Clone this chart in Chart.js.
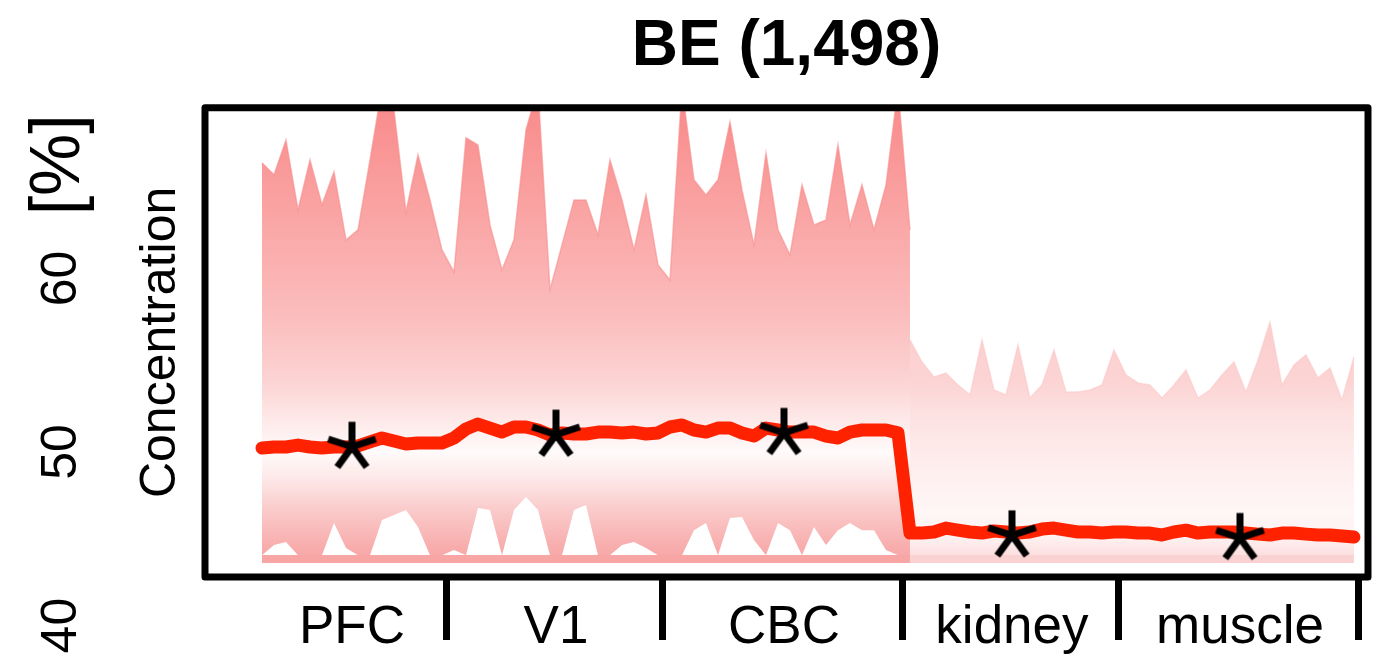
<!DOCTYPE html>
<html>
<head>
<meta charset="utf-8">
<title>BE (1,498)</title>
<script src="https://cdn.jsdelivr.net/npm/chart.js@4.4.1/dist/chart.umd.min.js"></script>
<style>
  html, body { margin: 0; padding: 0; background: #fff; }
  #wrap { width: 1394px; height: 656px; position: relative; }
</style>
</head>
<body>
<div id="wrap"><canvas id="chart"></canvas></div>
<script>
/* ---- data ---- */
const tissues = ['PFC', 'V1', 'CBC', 'kidney', 'muscle'];
const groupSizes = [16, 18, 20, 18, 20];
const yTicks = [40, 50, 60];

// mean concentration per sample (red line)
const meanLine = [
  50.23, 50.29, 50.29, 50.40, 50.29, 50.23, 50.29, 50.29, 50.35, 50.58,
  50.81, 50.63, 50.46, 50.52, 50.52, 50.52, 50.81, 51.33, 51.61, 51.38,
  51.15, 51.44, 51.44, 51.27, 50.98, 51.10, 51.04, 51.04, 51.15, 51.15,
  51.10, 51.15, 51.04, 51.10, 51.44, 51.56, 51.27, 51.15, 51.38, 51.38,
  51.10, 50.92, 51.38, 51.27, 51.15, 51.15, 51.15, 50.92, 50.81, 51.15,
  51.27, 51.27, 51.27, 51.10, 45.33, 45.33, 45.39, 45.62, 45.50, 45.39,
  45.33, 45.45, 45.39, 45.33, 45.39, 45.56, 45.62, 45.50, 45.39, 45.39,
  45.33, 45.39, 45.39, 45.33, 45.33, 45.22, 45.39, 45.50, 45.33, 45.39,
  45.39, 45.39, 45.33, 45.27, 45.22, 45.33, 45.33, 45.27, 45.22, 45.22,
  45.16, 45.10
];

// tissue means (asterisks)
const starValues = [50.3, 51.0, 51.1, 45.2, 45.05];

// spread of individual sites, brain regions (samples 0..54)
const brainUpper = [
  66.66, 65.97, 67.98, 63.95, 66.83, 64.24, 66.14, 62.22, 62.80, 66.83,
  71.00, 69.71, 63.83, 67.12, 64.52, 61.64, 60.37, 68.10, 67.69, 63.08,
  60.49, 62.22, 68.56, 71.00, 59.34, 61.93, 64.52, 64.52, 62.51, 66.83,
  64.52, 61.64, 64.81, 60.78, 59.91, 71.00, 65.68, 64.81, 65.68, 69.02,
  65.10, 61.93, 67.23, 62.80, 61.35, 65.39, 63.08, 63.37, 67.69, 63.08,
  65.39, 62.80, 65.39, 71.00, 62.80
];
const brainLower = [
  44.06, 44.64, 44.81, 44.06, 44.06, 44.06, 45.91, 44.47, 44.06, 44.06,
  46.08, 46.37, 46.66, 45.68, 44.06, 44.06, 44.35, 44.06, 46.77, 46.66,
  44.06, 46.66, 47.41, 46.66, 44.06, 44.06, 46.66, 46.95, 44.06, 44.06,
  44.64, 44.81, 44.47, 44.06, 44.06, 44.06, 45.50, 45.91, 44.06, 46.20,
  46.25, 44.93, 44.06, 45.91, 45.50, 44.06, 45.68, 44.64, 45.50, 45.91,
  45.50, 45.50, 44.35, 44.06, 44.06
];
// spread of individual sites, kidney + muscle (samples 54..91)
const tissueUpper = [
  56.46, 55.19, 54.32, 54.55, 53.86, 53.29, 56.46, 53.57, 53.29, 56.17,
  53.11, 53.86, 55.88, 53.46, 53.46, 53.57, 53.86, 55.88, 54.44, 53.98,
  53.86, 53.11, 53.86, 54.73, 53.11, 53.57, 54.44, 55.19, 53.46, 55.30,
  57.49, 53.86, 55.01, 55.59, 54.27, 54.84, 53.00, 55.48
];
const spreadFloor = 44.06;
const baseLevel = 43.83;

/* ---- derived positions (sample index space) ---- */
const FONT = "'Liberation Sans', Arial, Helvetica, sans-serif";
const starts = [];
groupSizes.reduce((acc, n) => { starts.push(acc); return acc + n; }, 0);
const centers = starts.map((s, k) => s + (groupSizes[k] - 1) / 2);
const boundaries = starts.map((s, k) => s + groupSizes[k] - 0.6);
const nSamples = meanLine.length;
const brainEnd = brainUpper.length - 1;

const pts = (arr, offset) => arr.map((v, i) => ({ x: i + (offset || 0), y: v }));

function valueGradient(chart, stops) {
  const { ctx, chartArea, scales } = chart;
  if (!chartArea) return null;
  const top = chartArea.top, bottom = chartArea.bottom;
  const g = ctx.createLinearGradient(0, top, 0, bottom);
  stops.forEach(([v, c]) => {
    const f = (scales.y.getPixelForValue(v) - top) / (bottom - top);
    g.addColorStop(Math.min(1, Math.max(0, f)), c);
  });
  return g;
}

const brainStops = [
  [69.8, 'rgb(249,140,140)'], [64, 'rgb(250,163,163)'], [58, 'rgb(251,188,188)'],
  [54, 'rgb(252,212,212)'], [51.5, 'rgb(254,236,236)'], [50, 'rgb(255,250,250)'],
  [48.5, 'rgb(253,232,232)'], [46.5, 'rgb(250,200,200)'], [44.5, 'rgb(248,172,172)'],
  [42.8, 'rgb(247,162,162)']
];
const tissueStops = [
  [57.5, 'rgb(252,205,205)'], [54, 'rgb(252,212,212)'], [52, 'rgb(253,226,226)'],
  [49, 'rgb(254,238,238)'], [46.5, 'rgb(255,246,246)'], [45, 'rgb(254,240,240)'],
  [44, 'rgb(252,222,222)']
];

function makeAsterisk(arm, width) {
  const size = Math.ceil(2 * arm + width + 2);
  const c = document.createElement('canvas');
  c.width = size; c.height = size;
  const g = c.getContext('2d');
  g.translate(size / 2, size / 2);
  g.strokeStyle = '#000';
  g.lineWidth = width;
  for (let k = 0; k < 5; k++) {
    const t = k * 2 * Math.PI / 5;
    g.beginPath();
    g.moveTo(0, 0);
    g.lineTo(arm * Math.sin(t), -arm * Math.cos(t));
    g.stroke();
  }
  return c;
}

// no extra room for tick labels that sit outside the box
function noPadding(s) {
  s.paddingTop = 0; s.paddingBottom = 0; s.paddingLeft = 0; s.paddingRight = 0;
}

// box around the plot and the unit label
const framePlugin = {
  id: 'frame',
  afterDatasetsDraw(chart) {
    const { ctx, chartArea: a } = chart;
    ctx.save();
    ctx.strokeStyle = '#000';
    ctx.lineWidth = 7;
    ctx.lineJoin = 'round';
    ctx.strokeRect(a.left, a.top, a.right - a.left, a.bottom - a.top);
    ctx.restore();
  },
  afterDraw(chart) {
    const { ctx, chartArea: a } = chart;
    ctx.save();
    ctx.translate(60, a.top + 57);
    ctx.rotate(-Math.PI / 2);
    ctx.font = '70px ' + FONT;
    ctx.fillStyle = '#000';
    ctx.textAlign = 'center';
    ctx.textBaseline = 'middle';
    ctx.fillText('[%]', 0, 0);
    ctx.restore();
  }
};

new Chart(document.getElementById('chart'), {
  type: 'line',
  data: {
    datasets: [
      {
        data: starValues.map((v, k) => ({ x: centers[k], y: v })),
        showLine: false,
        pointStyle: makeAsterisk(25, 7),
        pointRadius: 20
      },
      {
        data: pts(meanLine),
        borderColor: '#ff2200',
        borderWidth: 13,
        borderCapStyle: 'round',
        borderJoinStyle: 'round',
        pointRadius: 0,
        fill: false
      },
      {
        data: [{ x: 0, y: baseLevel }, { x: brainEnd, y: baseLevel }, { x: nSamples - 1, y: baseLevel }],
        borderWidth: 8,
        segment: {
          borderColor: c => c.p0DataIndex === 0 ? 'rgb(247,165,165)' : 'rgb(251,210,210)'
        },
        pointRadius: 0,
        fill: false
      },
      {
        data: pts(brainUpper),
        borderColor: 'rgba(248,140,140,0.6)',
        borderWidth: 1.5,
        pointRadius: 0,
        backgroundColor: c => valueGradient(c.chart, brainStops),
        fill: '+1'
      },
      {
        data: pts(brainLower),
        borderWidth: 0,
        pointRadius: 0,
        fill: false
      },
      {
        data: pts(tissueUpper, brainEnd),
        borderColor: 'rgba(251,200,200,0.6)',
        borderWidth: 1.5,
        pointRadius: 0,
        backgroundColor: c => valueGradient(c.chart, tissueStops),
        fill: { value: spreadFloor }
      }
    ]
  },
  options: {
    responsive: true,
    maintainAspectRatio: false,
    animation: false,
    elements: { line: { tension: 0 } },
    layout: { padding: { left: 0, right: 26, top: 0, bottom: 0 } },
    plugins: {
      legend: { display: false },
      tooltip: { enabled: false },
      title: {
        display: true,
        text: 'BE (1,498)',
        fullSize: false,
        color: '#000',
        font: { family: FONT, size: 64, weight: 'bold', lineHeight: 1.2 },
        padding: { top: 9, bottom: 22 }
      }
    },
    scales: {
      x: {
        type: 'linear',
        min: -4.75,
        max: 92.17,
        afterBuildTicks: s => {
          s.ticks = boundaries.concat(centers).sort((a, b) => a - b).map(v => ({ value: v }));
        },
        afterFit: s => { s.height = 79; noPadding(s); },
        grid: {
          display: true,
          drawOnChartArea: false,
          drawTicks: true,
          tickLength: 63,
          tickWidth: 7,
          tickColor: c => boundaries.includes(c.tick.value) ? '#000' : 'rgba(0,0,0,0)'
        },
        border: { display: false },
        ticks: {
          autoSkip: false,
          maxRotation: 0,
          minRotation: 0,
          padding: -43,
          color: '#000',
          font: { family: FONT, size: 53 },
          callback: v => {
            const k = centers.indexOf(v);
            return k >= 0 ? tissues[k] : '';
          }
        }
      },
      y: {
        type: 'linear',
        min: 42.8,
        max: 69.83,
        afterBuildTicks: s => { s.ticks = yTicks.map(v => ({ value: v })); },
        afterFit: s => { s.width = 205; noPadding(s); },
        grid: { display: false, drawTicks: false },
        border: { display: false },
        ticks: {
          minRotation: 90,
          maxRotation: 90,
          crossAlign: 'center',
          padding: 115,
          color: '#000',
          font: { family: FONT, size: 50 }
        },
        title: {
          display: true,
          text: 'Concentration',
          color: '#000',
          font: { family: FONT, size: 50 },
          padding: { top: 131, bottom: 0 }
        }
      }
    }
  },
  plugins: [framePlugin]
});
</script>
</body>
</html>
